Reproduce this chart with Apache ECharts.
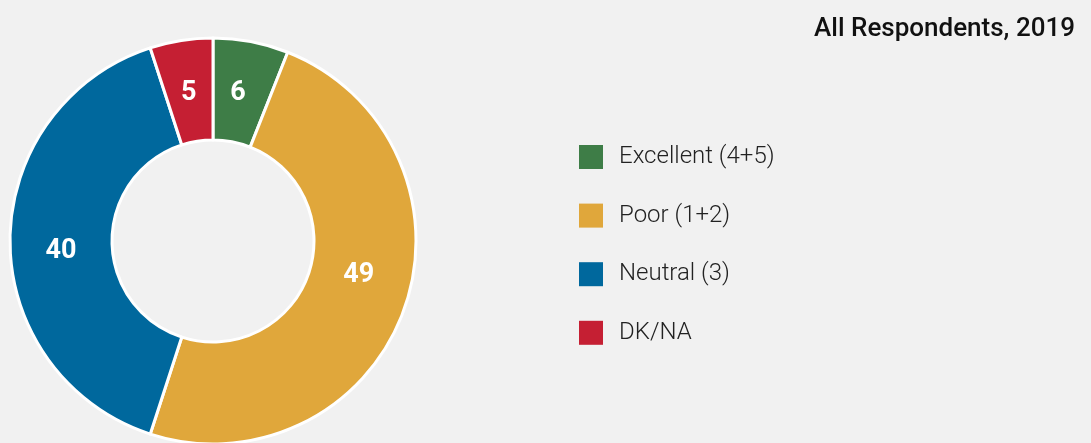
<!DOCTYPE html>
<html>
<head>
<meta charset="utf-8">
<script src="https://cdn.jsdelivr.net/npm/echarts@6/dist/echarts.min.js"></script>
<style>
  html, body { margin: 0; padding: 0; background: #f1f1f1; }
  #mychart { width: 1091px; height: 443px; }
</style>
</head>
<body>
<div id="mychart"></div>
<script>
// 数据
var categories = ['Excellent (4+5)', 'Poor (1+2)', 'Neutral (3)', 'DK/NA'];
var values = [6, 49, 40, 5];
var colors = ['#3e7d47', '#e0a73b', '#00689d', '#c51f33'];
var chartTitle = 'All Respondents, 2019';
// label nudges (px) to match the original placement
var labelOffsets = [[-4, 5], [0, -18], [3, 10], [0, 5]];

var chartDom = document.getElementById('mychart');
var myChart = echarts.init(chartDom);

var pieData = [];
for (var i = 0; i < categories.length; i++) {
  pieData.push({
    name: categories[i],
    value: values[i],
    itemStyle: { color: colors[i] },
    label: { offset: labelOffsets[i] }
  });
}

var option = {
  backgroundColor: '#f1f1f1',
  animation: false,
  title: {
    text: chartTitle,
    right: 11,
    top: 11,
    textStyle: {
      fontFamily: 'Roboto',
      fontSize: 26,
      fontWeight: 500,
      color: '#111'
    }
  },
  legend: {
    orient: 'vertical',
    left: 574,
    top: 140,
    itemWidth: 24,
    itemHeight: 24,
    itemGap: 34.6,
    icon: 'rect',
    selectedMode: false,
    data: categories,
    itemStyle: { borderWidth: 0 },
    textStyle: {
      fontFamily: 'Roboto',
      fontSize: 24,
      fontWeight: 300,
      color: '#222',
      padding: [0, 0, 0, 11]
    }
  },
  series: [
    {
      type: 'pie',
      center: [213, 241],
      radius: [101, 203],
      startAngle: 90,
      clockwise: true,
      itemStyle: {
        borderColor: '#ffffff',
        borderWidth: 3
      },
      label: {
        show: true,
        position: 'inside',
        formatter: '{c}',
        color: '#ffffff',
        fontFamily: 'Roboto',
        fontSize: 27,
        fontWeight: 'bold'
      },
      labelLine: { show: false },
      emphasis: { disabled: true },
      data: pieData
    }
  ]
};

myChart.setOption(option);
</script>
</body>
</html>
